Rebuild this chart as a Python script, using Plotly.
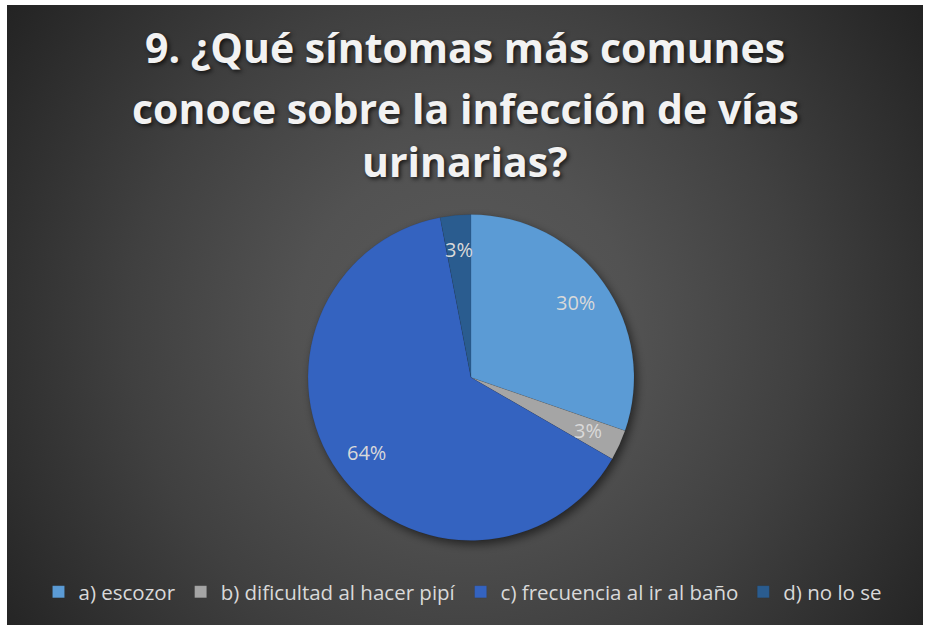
import base64
import math
import plotly.graph_objects as go

# ---- data ----
categories = ["a) escozor", "b) dificultad al hacer pipí", "c) frecuencia al ir al baño", "d) no lo se"]
counts = [10, 1, 21, 1]
colors = ["#5B9BD5", "#A5A5A5", "#3463C0", "#2A5C8F"]
title_lines = ["9. ¿Qué síntomas más comunes", "conoce sobre la infección de vías", "urinarias?"]

W, H = 926, 625
# chart area (white frame around it)
ax0, ay0, ax1, ay1 = 7, 5, 923, 625
# pie domain in pixels
pcx, pcy, pr = 471, 377.5, 163
label_r = 0.79
title_y = [47, 108, 161]

bw, bh = ax1 - ax0, ay1 - ay0
svg = f'''<svg xmlns="http://www.w3.org/2000/svg" width="{bw}" height="{bh}" viewBox="0 0 {bw} {bh}">
<defs>
<radialGradient id="g" gradientUnits="userSpaceOnUse" cx="{bw/2}" cy="{bh*0.52}" r="{((bw/2)**2+(bh*0.52)**2)**0.5}">
<stop offset="0" stop-color="#5A5A5A"/>
<stop offset="0.3" stop-color="#525252"/>
<stop offset="0.6" stop-color="#404040"/>
<stop offset="0.85" stop-color="#2E2E2E"/>
<stop offset="1" stop-color="#232323"/>
</radialGradient>
<filter id="b" x="-20%" y="-20%" width="140%" height="140%"><feGaussianBlur stdDeviation="5"/></filter>
</defs>
<rect x="0" y="0" width="{bw}" height="{bh}" fill="url(#g)"/>
<circle cx="{pcx-ax0+3}" cy="{pcy-ay0+4}" r="{pr}" fill="#000" fill-opacity="0.55" filter="url(#b)"/>
</svg>'''
src = "data:image/svg+xml;base64," + base64.b64encode(svg.encode("utf-8")).decode("ascii")

fig = go.Figure()
fig.add_trace(go.Pie(
    labels=categories,
    values=counts,
    sort=False,
    direction="clockwise",
    rotation=0,
    marker=dict(colors=colors, line=dict(color="rgba(0,0,0,0.12)", width=0.5)),
    textinfo="none",
    hoverinfo="label+percent",
    domain=dict(x=[(pcx - pr) / W, (pcx + pr) / W],
                y=[(H - pcy - pr) / H, (H - pcy + pr) / H]),
))

# percentage labels placed at each slice's mid-angle (derived from the data)
total = sum(counts)
annotations = []
cum = 0
for v in counts:
    mid = (cum + v / 2) / total * 2 * math.pi
    cum += v
    px = pcx + math.sin(mid) * pr * label_r
    py = pcy - math.cos(mid) * pr * label_r
    annotations.append(dict(
        text=f"{round(100 * v / total)}%", x=px / W, y=1 - py / H,
        xref="paper", yref="paper", showarrow=False,
        xanchor="center", yanchor="middle",
        font=dict(family="Open Sans", size=20, color="#D9D9D9"),
    ))

for line, ly in zip(title_lines, title_y):
    annotations.append(dict(
        text=line, x=0.5 + (ax0 + ax1 - W) / 2 / W, y=1 - ly / H,
        xref="paper", yref="paper", showarrow=False,
        xanchor="center", yanchor="middle",
        font=dict(family="Open Sans", size=41, color="#F2F2F2", weight="bold",
                  shadow="2px 2px 4px rgba(0,0,0,0.7)"),
    ))

fig.update_layout(
    width=W, height=H,
    margin=dict(l=0, r=0, t=0, b=0),
    paper_bgcolor="white",
    plot_bgcolor="rgba(0,0,0,0)",
    annotations=annotations,
    legend=dict(
        orientation="h",
        x=0.5, xanchor="center",
        y=(H - 592) / H, yanchor="middle",
        font=dict(family="Open Sans", size=20.5, color="#D9D9D9"),
        bgcolor="rgba(0,0,0,0)",
        itemwidth=30,
    ),
    images=[dict(
        source=src, xref="paper", yref="paper",
        x=ax0 / W, y=1 - ay0 / H, sizex=bw / W, sizey=bh / H,
        xanchor="left", yanchor="top", sizing="stretch", layer="below",
    )],
)

fig.write_html("out.html", config={"displayModeBar": False},
               post_script="document.body.style.margin='0px';")
